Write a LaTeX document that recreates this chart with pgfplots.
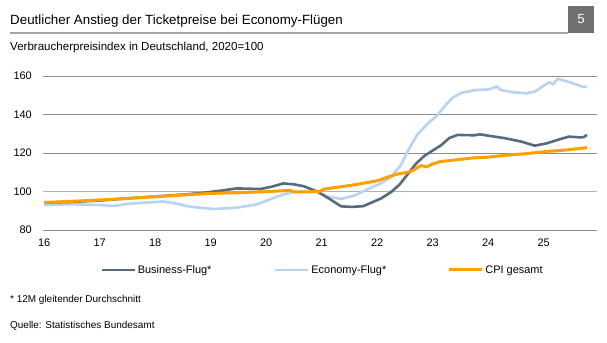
\documentclass[border=0pt]{standalone}
\usepackage{pgfplots}
\pgfplotsset{compat=1.18}
\usepackage{fontspec}
\setmainfont{Liberation Sans}
\definecolor{bizc}{HTML}{586A7D}
\definecolor{ecoc}{HTML}{B7D3F0}
\definecolor{cpic}{HTML}{FFA000}
\definecolor{gridc}{HTML}{8C8C8C}
\definecolor{grid100}{HTML}{B0B0B0}
\definecolor{boxc}{HTML}{707070}
\definecolor{linec}{HTML}{A5A5A5}
\begin{document}
\begin{tikzpicture}[x=1bp,y=1bp]
\fill[white] (0,0) rectangle (607,342);
\useasboundingbox (0,0) rectangle (607,342);
\node[anchor=base west, inner sep=0pt, font=\fontsize{13.4}{15}\selectfont] at (10,318) {Deutlicher Anstieg der Ticketpreise bei Economy-Flügen};
\draw[line width=2bp, linec] (10,309.3) -- (568,309.3);
\fill[boxc] (568,309.3) rectangle (594,336);
\node[text=white, font=\fontsize{13.4}{15}\selectfont, inner sep=0pt] at (581,322.6) {5};
\node[anchor=base west, inner sep=0pt, font=\fontsize{11.6}{13}\selectfont] at (10,292) {Verbraucherpreisindex in Deutschland, 2020=100};
\node[anchor=base west, inner sep=0pt, font=\fontsize{10}{12}\selectfont] at (10,39.5) {* 12M gleitender Durchschnitt};
\node[anchor=base west, inner sep=0pt, font=\fontsize{10}{12}\selectfont] at (10,13.5) {Quelle: Statistisches Bundesamt};
\begin{axis}[
  at={(43bp,112bp)}, anchor=south west, scale only axis,
  width=554bp, height=154bp,
  xmin=15.98, xmax=25.96, ymin=80, ymax=160,
  axis line style={draw=none},
  xtick={16,17,...,25}, xticklabels={16,17,18,19,20,21,22,23,24,25},
  ytick={80,100,...,160},
  extra y ticks={100}, extra y tick labels={},
  extra y tick style={grid style={grid100, line width=1.8bp}},
  major tick length=0pt,
  ymajorgrids, grid style={gridc, line width=0.9bp},
  /pgf/number format/assume math mode=true,
  tick label style={font=\fontsize{11}{13}\selectfont},
  yticklabel style={anchor=east, inner sep=0pt, xshift=-11bp},
  xticklabel style={anchor=north, inner sep=0pt, yshift=-9bp},
  clip=false,
  legend columns=3,
  legend cell align=left,
  legend image code/.code={\draw[#1] (0bp,0bp) -- (33bp,0bp);},
  legend style={at={(0.1029,-0.2597)}, anchor=west, draw=none, fill=none, inner sep=0pt,
    font=\fontsize{11}{13}\selectfont, /tikz/every even column/.append style={column sep=0pt}},
]
\addlegendimage{bizc, line width=2.6bp}
\addlegendentry{\makebox[134bp][l]{Business-Flug*}}
\addlegendimage{ecoc, line width=2.6bp}
\addlegendentry{\makebox[134bp][l]{Economy-Flug*}}
\addlegendimage{cpic, line width=3bp}
\addlegendentry{CPI gesamt}
% Economy-Flug
\addplot[ecoc, line width=2.6bp, line join=round, forget plot] coordinates {
(16.0,93.0)(16.5,93.4)(17.0,93.0)(17.25,92.5)(17.5,93.6)(17.8,94.2)(18.15,94.8)(18.35,93.9)
(18.63,92.1)(19.05,90.9)(19.47,91.6)(19.83,93.3)(20.07,95.9)(20.31,98.5)(20.5,99.8)(20.92,99.8)
(21.1,97.5)(21.35,96.1)(21.6,98.0)(21.8,100.8)(22.05,104.0)(22.25,107.5)(22.43,113.8)(22.55,121.0)
(22.72,129.5)(22.9,135.0)(23.08,139.5)(23.25,145.5)(23.37,149.0)(23.52,151.3)(23.77,152.7)(24.0,153.0)
(24.16,154.5)(24.22,152.8)(24.46,151.5)(24.7,151.0)(24.85,152.0)(25.0,155.0)(25.1,156.8)(25.17,155.6)
(25.25,158.6)(25.42,157.2)(25.6,155.5)(25.72,154.2)(25.78,154.5)
};
% Business-Flug
\addplot[bizc, line width=2.6bp, line join=round, forget plot] coordinates {
(16.0,94.2)(16.5,94.6)(17.0,95.3)(17.5,96.4)(18.0,97.4)(18.5,98.4)(18.87,99.3)(19.2,100.5)
(19.47,101.6)(19.9,101.3)(20.1,102.5)(20.31,104.2)(20.5,103.7)(20.67,102.8)(20.92,100.0)(21.15,96.0)
(21.35,92.3)(21.55,92.0)(21.75,92.4)(22.07,96.4)(22.25,99.7)(22.4,103.5)(22.55,109.0)(22.7,114.5)
(22.85,118.5)(23.0,121.3)(23.15,124.0)(23.3,127.8)(23.45,129.4)(23.75,129.2)(23.85,129.7)(24.0,129.0)
(24.3,127.7)(24.6,125.9)(24.84,123.8)(25.05,125.0)(25.25,126.8)(25.45,128.5)(25.66,128.1)(25.72,128.3)
(25.78,129.4)
};
% CPI gesamt
\addplot[cpic, line width=3bp, line join=round, forget plot] coordinates {
(16.0,94.3)(16.5,94.9)(17.0,95.6)(17.5,96.4)(18.0,97.3)(18.3,97.8)(18.5,98.2)(19.0,99.0)
(19.5,99.4)(20.0,99.9)(20.43,100.6)(20.5,99.8)(20.95,99.9)(21.05,101.3)(21.53,103.2)(22.01,105.6)
(22.19,107.5)(22.37,109.1)(22.6,110.3)(22.79,113.5)(22.89,112.8)(23.0,114.3)(23.13,115.5)(23.5,116.7)
(23.74,117.5)(23.98,117.8)(24.34,118.9)(24.7,119.7)(25.05,120.8)(25.42,121.6)(25.78,122.8)
};
\end{axis}
\end{tikzpicture}
\end{document}
